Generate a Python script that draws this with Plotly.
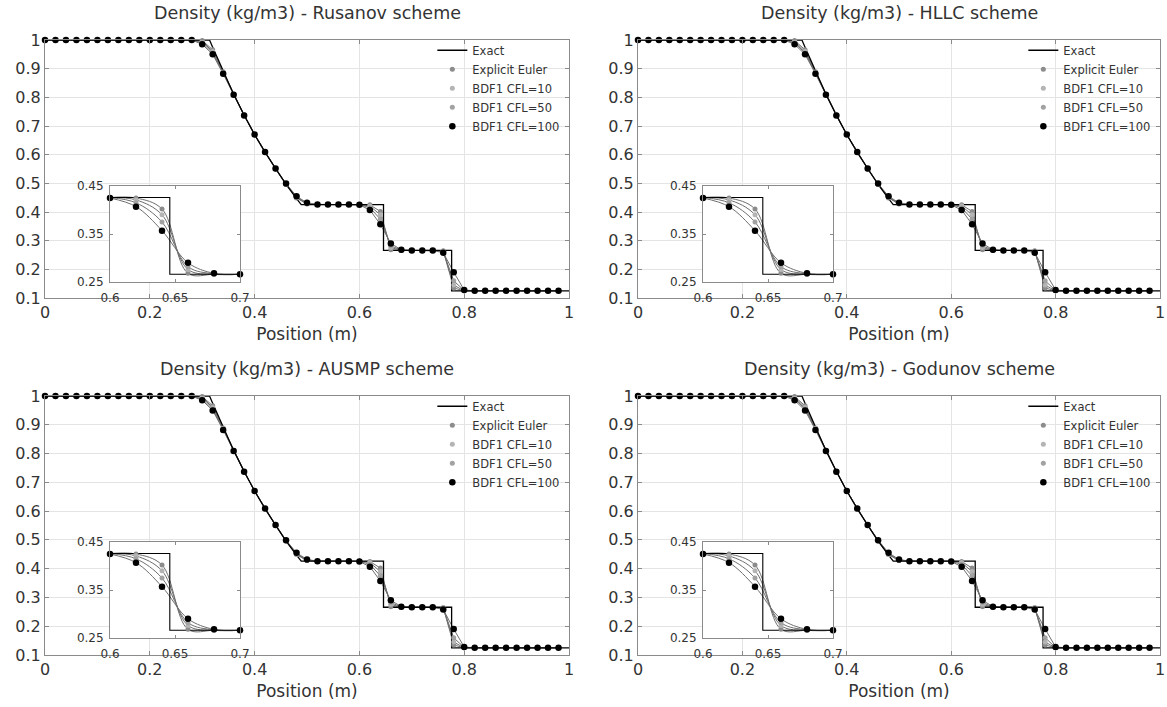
import plotly.graph_objects as go

# ---------------- data ----------------
x_cells = [0.00, 0.02, 0.04, 0.06, 0.08, 0.10, 0.12, 0.14, 0.16, 0.18,
           0.20, 0.22, 0.24, 0.26, 0.28, 0.30, 0.32, 0.34, 0.36, 0.38,
           0.40, 0.42, 0.44, 0.46, 0.48, 0.50, 0.52, 0.54, 0.56, 0.58,
           0.60, 0.62, 0.64, 0.66, 0.68, 0.70, 0.72, 0.74, 0.76, 0.78,
           0.80, 0.82, 0.84, 0.86, 0.88, 0.90, 0.92, 0.94, 0.96, 0.98]

rho_euler = [1.0, 1.0, 1.0, 1.0, 1.0, 1.0, 1.0, 1.0, 1.0, 1.0,
             1.0, 1.0, 1.0, 1.0, 1.0, 0.998, 0.966, 0.889, 0.811, 0.738,
             0.670, 0.608, 0.550, 0.496, 0.449, 0.428, 0.426, 0.426, 0.426, 0.426,
             0.426, 0.425, 0.402, 0.268, 0.266, 0.266, 0.266, 0.266, 0.265, 0.135,
             0.125, 0.125, 0.125, 0.125, 0.125, 0.125, 0.125, 0.125, 0.125, 0.125]

rho_cfl10 = [1.0, 1.0, 1.0, 1.0, 1.0, 1.0, 1.0, 1.0, 1.0, 1.0,
             1.0, 1.0, 1.0, 1.0, 1.0, 0.995, 0.960, 0.887, 0.811, 0.738,
             0.670, 0.608, 0.550, 0.497, 0.450, 0.429, 0.426, 0.426, 0.426, 0.426,
             0.426, 0.421, 0.390, 0.276, 0.266, 0.266, 0.266, 0.266, 0.264, 0.145,
             0.125, 0.125, 0.125, 0.125, 0.125, 0.125, 0.125, 0.125, 0.125, 0.125]

rho_cfl50 = [1.0, 1.0, 1.0, 1.0, 1.0, 1.0, 1.0, 1.0, 1.0, 1.0,
             1.0, 1.0, 1.0, 1.0, 1.0, 0.990, 0.955, 0.885, 0.810, 0.738,
             0.670, 0.608, 0.551, 0.498, 0.452, 0.430, 0.426, 0.426, 0.426, 0.426,
             0.426, 0.415, 0.375, 0.282, 0.267, 0.266, 0.266, 0.266, 0.262, 0.160,
             0.126, 0.125, 0.125, 0.125, 0.125, 0.125, 0.125, 0.125, 0.125, 0.125]

rho_cfl100 = [1.0, 1.0, 1.0, 1.0, 1.0, 1.0, 1.0, 1.0, 1.0, 1.0,
              1.0, 1.0, 1.0, 1.0, 1.0, 0.985, 0.950, 0.882, 0.809, 0.737,
              0.670, 0.609, 0.552, 0.499, 0.455, 0.432, 0.426, 0.426, 0.426, 0.426,
              0.425, 0.407, 0.357, 0.290, 0.268, 0.266, 0.266, 0.266, 0.258, 0.190,
              0.128, 0.125, 0.125, 0.125, 0.125, 0.125, 0.125, 0.125, 0.125, 0.125]

exact_x = [0.0, 0.314, 0.32, 0.34, 0.36, 0.38, 0.40, 0.42, 0.44, 0.46, 0.48,
           0.489, 0.646, 0.646, 0.776, 0.776, 1.0]
exact_rho = [1.0, 1.0, 0.975, 0.890, 0.811, 0.738, 0.670, 0.608, 0.550, 0.496, 0.447,
             0.426, 0.426, 0.266, 0.266, 0.125, 0.125]

schemes = ["Rusanov", "HLLC", "AUSMP", "Godunov"]
series_names = ["Explicit Euler", "BDF1 CFL=10", "BDF1 CFL=50", "BDF1 CFL=100"]
series_values = [rho_euler, rho_cfl10, rho_cfl50, rho_cfl100]

x_ticks = [0, 0.2, 0.4, 0.6, 0.8, 1]
x_tick_text = ["0", "0.2", "0.4", "0.6", "0.8", "1"]
y_ticks = [0.1, 0.2, 0.3, 0.4, 0.5, 0.6, 0.7, 0.8, 0.9, 1]
y_tick_text = ["0.1", "0.2", "0.3", "0.4", "0.5", "0.6", "0.7", "0.8", "0.9", "1"]
inset_x_ticks = [0.6, 0.65, 0.7]
inset_x_text = ["0.6", "0.65", "0.7"]
inset_y_ticks = [0.25, 0.35, 0.45]
inset_y_text = ["0.25", "0.35", "0.45"]
inset_range_x = [0.6, 0.7]
inset_range_y = [0.25, 0.45]

# ---------------- styling ----------------
FONT = "DejaVu Sans"
TXT = "#333333"
FRAME = "#8a8a8a"
GRID = "#e4e4e4"
marker_colors = ["#8c8c8c", "#b4b4b4", "#a2a2a2", "#000000"]
marker_sizes = [5, 5, 5, 6.5]
line_color = "#6e6e6e"

W, H = 1167, 707
def px_x(p):
    return p / W
def px_y(p):
    return 1 - p / H

main_dom = [
    ((45, 569), (40, 298)),
    ((638, 1160), (40, 298)),
    ((45, 569), (396, 655)),
    ((638, 1160), (396, 655)),
]
inset_dom = [
    ((110, 240), (186, 282)),
    ((703, 833), (186, 282)),
    ((110, 240), (542, 638)),
    ((703, 833), (542, 638)),
]

fig = go.Figure()
layout = dict(
    width=W, height=H,
    margin=dict(l=0, r=0, t=0, b=0, autoexpand=False),
    paper_bgcolor="white", plot_bgcolor="white",
    font=dict(family=FONT, color=TXT, size=14),
    annotations=[],
    showlegend=True,
)

legend_names = ["legend", "legend2", "legend3", "legend4"]

def in_inset(xs, ys):
    sel = [(x, y) for x, y in zip(xs, ys) if inset_range_x[0] - 1e-9 <= x <= inset_range_x[1] + 1e-9]
    return [p[0] for p in sel], [p[1] for p in sel]

for k, scheme in enumerate(schemes):
    ax = k + 1
    xa = "x" if ax == 1 else f"x{ax}"
    ya = "y" if ax == 1 else f"y{ax}"
    lg = legend_names[k]
    for vals in series_values:
        fig.add_trace(go.Scatter(x=x_cells, y=vals, mode="lines", xaxis=xa, yaxis=ya,
                                 line=dict(color=line_color, width=1), showlegend=False,
                                 hoverinfo="skip"))
    fig.add_trace(go.Scatter(x=exact_x, y=exact_rho, mode="lines", name="Exact",
                             xaxis=xa, yaxis=ya, legend=lg,
                             line=dict(color="black", width=1.3)))
    for name, vals, c, s in zip(series_names, series_values, marker_colors, marker_sizes):
        fig.add_trace(go.Scatter(x=x_cells, y=vals, mode="markers", name=name,
                                 xaxis=xa, yaxis=ya, legend=lg, cliponaxis=False,
                                 marker=dict(color=c, size=s, line=dict(width=0))))

    (x0, x1), (y0, y1) = main_dom[k]
    dx = [px_x(x0), px_x(x1)]
    dy = [px_y(y1), px_y(y0)]
    xkey = "xaxis" if ax == 1 else f"xaxis{ax}"
    ykey = "yaxis" if ax == 1 else f"yaxis{ax}"
    layout[xkey] = dict(domain=dx, anchor=ya, range=[0, 1], tickvals=x_ticks,
                        ticktext=x_tick_text, automargin=False,
                        showgrid=True, gridcolor=GRID, zeroline=False,
                        showline=True, linecolor=FRAME, linewidth=1, mirror="ticks",
                        ticks="inside", ticklen=4, tickcolor=FRAME,
                        tickfont=dict(size=16, color=TXT),
                        title=dict(text="Position (m)", font=dict(size=17, color=TXT), standoff=6))
    layout[ykey] = dict(domain=dy, anchor=xa, range=[0.1, 1], tickvals=y_ticks,
                        ticktext=y_tick_text, automargin=False,
                        showgrid=True, gridcolor=GRID, zeroline=False,
                        showline=True, linecolor=FRAME, linewidth=1, mirror="ticks",
                        ticks="inside", ticklen=4, tickcolor=FRAME,
                        tickfont=dict(size=16, color=TXT))
    layout["annotations"].append(dict(
        text=f"Density (kg/m3) - {scheme} scheme", xref="paper", yref="paper",
        x=(dx[0] + dx[1]) / 2, y=px_y(y0 - 27), xanchor="center", yanchor="middle",
        showarrow=False, font=dict(size=17.5, color=TXT)))
    layout[lg] = dict(x=dx[1] - 0.004, y=dy[1] + 0.006, xanchor="right", yanchor="top",
                      bgcolor="rgba(255,255,255,0)", font=dict(size=11.5, color=TXT),
                      itemwidth=30, tracegroupgap=0)

for k in range(4):
    ax = k + 5
    xa, ya = f"x{ax}", f"y{ax}"
    for vals in series_values:
        xs, ys = in_inset(x_cells, vals)
        fig.add_trace(go.Scatter(x=xs, y=ys, mode="lines", xaxis=xa, yaxis=ya,
                                 line=dict(color=line_color, width=1, shape="spline"),
                                 showlegend=False, hoverinfo="skip"))
    fig.add_trace(go.Scatter(x=exact_x, y=exact_rho, mode="lines", xaxis=xa, yaxis=ya,
                             line=dict(color="black", width=1.1), showlegend=False))
    for name, vals, c, s in zip(series_names, series_values, marker_colors, marker_sizes):
        xs, ys = in_inset(x_cells, vals)
        fig.add_trace(go.Scatter(x=xs, y=ys, mode="markers", xaxis=xa, yaxis=ya,
                                 cliponaxis=False, showlegend=False,
                                 marker=dict(color=c, size=s, line=dict(width=0))))
    (x0, x1), (y0, y1) = inset_dom[k]
    layout[f"xaxis{ax}"] = dict(domain=[px_x(x0), px_x(x1)], anchor=ya, range=inset_range_x,
                               tickvals=inset_x_ticks, ticktext=inset_x_text, automargin=False,
                               showgrid=False, zeroline=False, showline=True, linecolor=FRAME,
                               mirror="ticks", ticks="inside", ticklen=3, tickcolor=FRAME,
                               ticklabelstandoff=5,
                               tickfont=dict(size=12, color=TXT))
    layout[f"yaxis{ax}"] = dict(domain=[px_y(y1), px_y(y0)], anchor=xa, range=inset_range_y,
                               tickvals=inset_y_ticks, ticktext=inset_y_text, automargin=False,
                               showgrid=False, zeroline=False, showline=True, linecolor=FRAME,
                               mirror="ticks", ticks="inside", ticklen=3, tickcolor=FRAME,
                               ticklabelstandoff=3,
                               tickfont=dict(size=12, color=TXT))

fig.update_layout(**layout)
fig.write_html("out.html")
